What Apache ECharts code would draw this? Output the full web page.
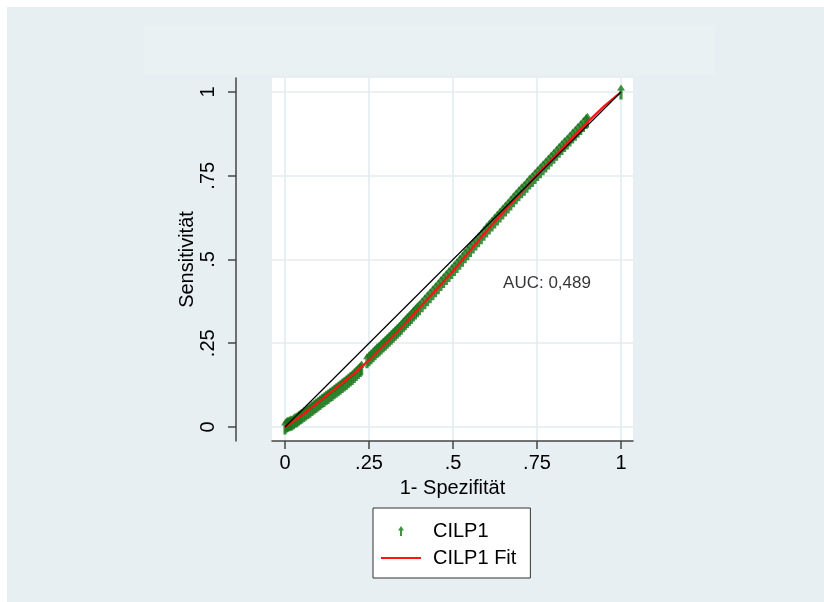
<!DOCTYPE html>
<html><head><meta charset="utf-8">
<script src="https://cdn.jsdelivr.net/npm/echarts@6/dist/echarts.min.js"></script>
<style>html,body{margin:0;padding:0;background:#fff;}#c{width:824px;height:602px;}</style>
</head><body><div id="c"></div>
<script>
// ---- data ----
const tickValues = [0, 0.25, 0.5, 0.75, 1];
const tickLabels = ['0', '.25', '.5', '.75', '1'];
const xTitle = '1- Spezifität';
const yTitle = 'Sensitivität';
const seriesNames = ['CILP1', 'CILP1 Fit'];
const aucText = 'AUC: 0,489';
const aucPos = [0.649, 0.43];
// empirical ROC points (1-specificity, sensitivity)
const rocX = [0,0.004,0.008,0.012,0.016,0.02,0.025,0.03,0.035,0.04,0.045,0.05,0.056,0.062,0.068,0.074,0.08,0.086,0.092,0.098,0.104,0.11,0.116,0.122,0.128,0.134,0.14,0.146,0.152,0.158,0.164,0.17,0.176,0.182,0.188,0.194,0.2,0.206,0.212,0.218,0.224,0.228,
0.244,0.25,0.256,0.262,0.268,0.274,0.28,0.286,0.292,0.298,0.304,0.31,0.316,0.322,0.328,0.334,0.34,0.346,0.352,0.358,0.364,0.37,0.376,0.382,0.388,0.394,0.4,
0.408,0.416,0.424,0.432,0.44,0.448,0.456,0.464,0.472,0.48,0.488,0.496,0.504,0.512,0.52,0.528,0.536,0.544,0.552,0.56,0.568,0.576,0.584,0.592,0.6,0.608,0.616,0.624,0.632,0.64,0.648,0.656,0.664,0.672,0.68,0.688,0.696,0.704,0.712,0.72,0.728,0.736,0.744,0.752,0.76,0.768,0.776,0.784,0.792,0.8,0.808,0.816,0.824,0.832,0.84,0.848,0.856,0.864,0.872,0.88,0.888,0.896,0.9,1];
const rocY = [0,0.006,0.008,0.01,0.012,0.012,0.016,0.02,0.022,0.026,0.03,0.033,0.037,0.042,0.046,0.05,0.055,0.06,0.064,0.069,0.073,0.078,0.082,0.087,0.091,0.096,0.1,0.105,0.11,0.114,0.119,0.124,0.128,0.133,0.138,0.143,0.148,0.154,0.16,0.166,0.172,0.176,
0.198,0.204,0.21,0.216,0.222,0.228,0.233,0.239,0.245,0.25,0.256,0.262,0.268,0.274,0.28,0.286,0.292,0.298,0.305,0.311,0.318,0.324,0.33,0.337,0.343,0.35,0.356,
0.365,0.374,0.383,0.392,0.401,0.41,0.419,0.428,0.437,0.446,0.455,0.464,0.473,0.482,0.492,0.501,0.511,0.52,0.53,0.54,0.549,0.559,0.568,0.578,0.588,0.597,0.606,0.615,0.624,0.633,0.642,0.651,0.66,0.669,0.678,0.687,0.696,0.705,0.713,0.722,0.731,0.739,0.748,0.757,0.765,0.774,0.782,0.791,0.8,0.808,0.817,0.826,0.834,0.843,0.851,0.86,0.869,0.877,0.886,0.894,0.903,0.912,0.916,1];
// fitted ROC curve
const fitX = [0,0.05,0.1,0.15,0.2,0.25,0.3,0.35,0.4,0.45,0.5,0.55,0.6,0.65,0.7,0.75,0.8,0.85,0.9,0.95,1];
const fitY = [0,0.035,0.075,0.115,0.155,0.2,0.25,0.3,0.355,0.41,0.465,0.525,0.585,0.642,0.697,0.752,0.805,0.858,0.91,0.958,1];
// reference diagonal
const diagX = [0, 1];
const diagY = [0, 1];

const zip = (a, b) => a.map((v, i) => [v, b[i]]);
const arrow = 'path://M3,0 L6,4.5 L4,4.5 L4,10 L2,10 L2,4.5 L0,4.5 Z';
const markerShape = 'path://M3,0 L6,4 L4.2,4 L4.2,10 L1.8,10 L1.8,4 L0,4 Z';
const lineIcon = 'path://M0,0 L40,0 L40,2.2 L0,2.2 Z';
const green = '#157415';
const red = '#ff1414';
const font = 'Liberation Sans, Arial, Helvetica, sans-serif';
const labelFmt = v => { const i = tickValues.findIndex(t => Math.abs(t - v) < 1e-9); return i >= 0 ? tickLabels[i] : ''; };

const chart = echarts.init(document.getElementById('c'), null, {renderer: 'canvas'});
chart.setOption({
  backgroundColor: '#ffffff',
  animation: false,
  textStyle: {fontFamily: font},
  graphic: [
    {type: 'rect', z: -20, silent: true, shape: {x: 7, y: 7, width: 817, height: 595}, style: {fill: '#e8eff2'}},
    {type: 'rect', z: -19, silent: true, shape: {x: 144, y: 25, width: 571, height: 50}, style: {fill: '#eaf1f3'}}
  ],
  grid: {left: 272, top: 78, width: 361, height: 363, show: true, backgroundColor: '#ffffff', borderWidth: 0, containLabel: false},
  xAxis: {
    type: 'value', min: -0.0387, max: 1.0357,
    name: xTitle, nameLocation: 'middle', nameGap: 37,
    nameTextStyle: {fontSize: 20, color: '#000', fontFamily: font},
    axisLine: {show: true, onZero: false, lineStyle: {color: '#444', width: 1.5}},
    axisTick: {show: true, length: 8, customValues: tickValues, lineStyle: {color: '#444', width: 1.5}},
    axisLabel: {customValues: tickValues, formatter: labelFmt, fontSize: 20, color: '#000', margin: 12, fontFamily: font},
    splitLine: {show: true, lineStyle: {color: '#e3ecef', width: 1.6}}
  },
  yAxis: {
    type: 'value', min: -0.0418, max: 1.0418, offset: 36,
    name: yTitle, nameLocation: 'middle', nameGap: 39,
    nameTextStyle: {fontSize: 20, color: '#000', fontFamily: font},
    axisLine: {show: true, onZero: false, lineStyle: {color: '#444', width: 1.5}},
    axisTick: {show: true, length: 8, customValues: tickValues, lineStyle: {color: '#444', width: 1.5}},
    axisLabel: {customValues: tickValues, formatter: labelFmt, rotate: 90, fontSize: 20, color: '#000', margin: 18, fontFamily: font},
    splitLine: {show: true, lineStyle: {color: '#e3ecef', width: 1.6}}
  },
  legend: {
    left: 373, top: 508, orient: 'vertical',
    data: [{name: seriesNames[0], icon: arrow, itemStyle: {color: green}}, {name: seriesNames[1], icon: lineIcon, itemStyle: {color: red}}],
    itemWidth: 40, itemHeight: 10, itemGap: 7, symbolKeepAspect: true,
    backgroundColor: '#ffffff', borderColor: '#333', borderWidth: 1, borderRadius: 0,
    padding: [13, 14, 10, 8],
    textStyle: {fontSize: 20, color: '#000', fontFamily: font, lineHeight: 20, padding: [0, 0, 0, 7]}
  },
  series: [
    {name: seriesNames[0], type: 'scatter', data: zip(rocX, rocY), symbol: markerShape, symbolSize: [8, 15], symbolKeepAspect: false,
     itemStyle: {color: green}, z: 2},
    {name: seriesNames[1], type: 'line', data: zip(fitX, fitY), symbol: 'none', showSymbol: false, smooth: false,
     lineStyle: {color: red, width: 2.2}, itemStyle: {color: red}, z: 3},
    {name: 'diag', type: 'line', data: zip(diagX, diagY), symbol: 'none',
     lineStyle: {color: '#000', width: 1.2}, z: 4},
    {name: 'auc', type: 'scatter', data: [aucPos], symbolSize: 0, silent: true,
     label: {show: true, formatter: aucText, position: 'right', distance: 0, fontSize: 17, color: '#000', fontFamily: font}, z: 5}
  ]
});
</script></body></html>
